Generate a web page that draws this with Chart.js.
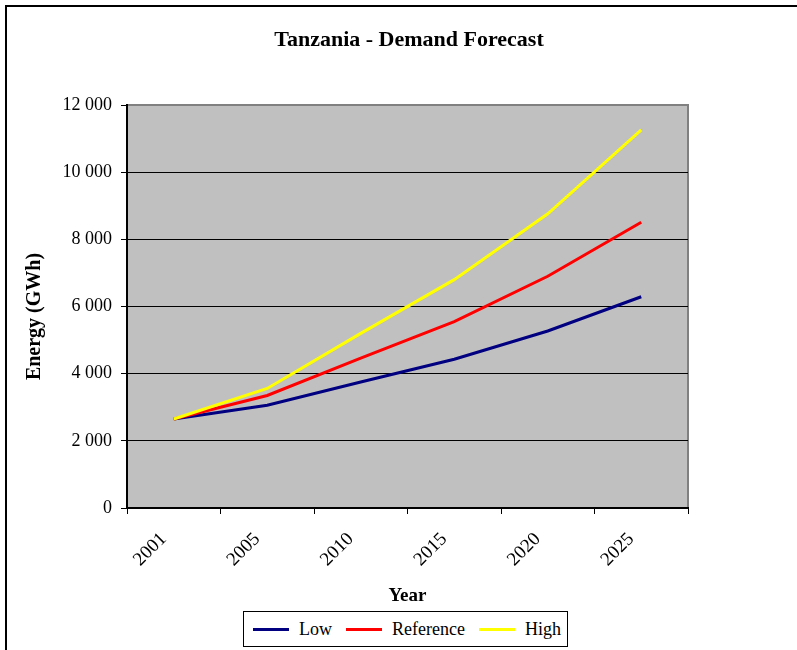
<!DOCTYPE html>
<html>
<head>
<meta charset="utf-8">
<title>Tanzania - Demand Forecast</title>
<script src="https://cdn.jsdelivr.net/npm/chart.js@4.4.0/dist/chart.umd.min.js"></script>
<style>
    html, body { margin: 0; padding: 0; background: #fff; overflow: hidden; }
    .frame {
        position: absolute; left: 5px; top: 5px; width: 820px; height: 700px;
        border-top: 2px solid #000; border-left: 2px solid #000;
    }
    .chart-container { position: absolute; left: 21px; top: 0; width: 776px; height: 650px; }
    .legend-container {
        position: absolute; left: 243px; top: 611px; width: 323px; height: 34px;
        border: 1px solid #000; background: #fff;
    }
    #legend {
        list-style: none; margin: 0; padding: 0 0 0 9px; height: 100%;
        display: flex; align-items: center;
        font: 18px "Liberation Serif", "Times New Roman", serif; color: #000;
    }
    #legend li { display: flex; align-items: center; margin-right: 14px; }
    .legend-color { display: inline-block; width: 36px; height: 3px; margin-right: 10px; }
</style>
</head>
<body>
    <div class="frame"></div>
    <div class="chart-container">
        <canvas id="demandChart" width="776" height="650"></canvas>
    </div>
    <div class="legend-container">
        <ul id="legend"></ul>
    </div>

    <script>
        // values (GWh)
        var years = ['2001', '2005', '2010', '2015', '2020', '2025'];
        var lowValues = [2650, 3060, 3750, 4430, 5270, 6290];
        var referenceValues = [2650, 3350, 4460, 5550, 6900, 8510];
        var highValues = [2650, 3560, 5200, 6800, 8760, 11260];
        var yTicks = [0, 2000, 4000, 6000, 8000, 10000, 12000];

        var seriesNames = ['Low', 'Reference', 'High'];
        var seriesColors = ['#000080', '#FF0000', '#FFFF00'];

        var serif = '"Liberation Serif", "Times New Roman", serif';
        Chart.defaults.color = '#000';
        Chart.defaults.font.family = serif;

        // gray plot background with a gray frame, like the old Excel chart
        var plotBackground = {
            id: 'plotBackground',
            beforeDraw: function(chart) {
                var a = chart.chartArea;
                var c = chart.ctx;
                c.save();
                c.fillStyle = '#C0C0C0';
                c.fillRect(a.left, a.top, a.right - a.left, a.bottom - a.top);
                c.strokeStyle = '#808080';
                c.lineWidth = 2;
                c.strokeRect(a.left, a.top, a.right - a.left, a.bottom - a.top);
                c.restore();
            }
        };

        var allValues = [lowValues, referenceValues, highValues];
        var datasets = [];
        var legendHTML = '';
        for (var i = 0; i < seriesNames.length; i++) {
            datasets.push({
                label: seriesNames[i],
                data: allValues[i],
                borderColor: seriesColors[i],
                backgroundColor: seriesColors[i],
                borderWidth: 3,
                pointRadius: 0,
                fill: false,
                tension: 0,
                order: seriesNames.length - i
            });
            legendHTML += '<li><span class="legend-color" style="background-color:' + seriesColors[i] + '"></span>' + seriesNames[i] + '</li>';
        }
        document.getElementById('legend').innerHTML = legendHTML;

        var ctx = document.getElementById('demandChart').getContext('2d');
        var chart = new Chart(ctx, {
            type: 'line',
            data: {
                labels: years,
                datasets: datasets
            },
            plugins: [plotBackground],
            options: {
                responsive: false,
                animation: false,
                layout: {
                    padding: { left: 0, right: 0, top: 27, bottom: 42 }
                },
                scales: {
                    x: {
                        offset: true,
                        afterFit: function(scale) { scale.height = 100; },
                        grid: {
                            offset: true,
                            drawOnChartArea: false,
                            drawTicks: true,
                            tickLength: 6,
                            tickColor: '#000'
                        },
                        border: { color: '#000', width: 2 },
                        ticks: {
                            minRotation: 45,
                            maxRotation: 45,
                            padding: 4,
                            font: { size: 19, family: serif },
                            callback: function(value, index) {
                                // trailing spaces push the rotated label away from the tick
                                return years[index] + '\u00a0\u00a0\u00a0';
                            }
                        },
                        title: {
                            display: true,
                            text: 'Year',
                            padding: { top: 0, bottom: 1 },
                            font: { size: 19, weight: 'bold', family: serif }
                        }
                    },
                    y: {
                        min: 0,
                        max: 12000,
                        afterFit: function(scale) { scale.width = 106; },
                        afterBuildTicks: function(scale) {
                            scale.ticks = yTicks.map(function(v) { return { value: v }; });
                        },
                        grid: {
                            color: function(c) {
                                return c.tick && c.tick.value === 12000 ? '#808080' : '#000';
                            },
                            lineWidth: 1,
                            drawTicks: true,
                            tickLength: 6,
                            tickColor: '#000'
                        },
                        border: { color: '#000', width: 2 },
                        ticks: {
                            padding: 9,
                            font: { size: 18, family: serif },
                            callback: function(value) {
                                return String(value).replace(/\B(?=(\d{3})+(?!\d))/g, ' ');
                            }
                        },
                        title: {
                            display: true,
                            text: 'Energy (GWh)\u00a0\u00a0\u00a0\u00a0',
                            padding: { top: 2, bottom: 0 },
                            font: { size: 20, weight: 'bold', family: serif }
                        }
                    },
                    // empty right-hand strip so the title centres like the reference
                    spacer: {
                        type: 'linear',
                        position: 'right',
                        afterFit: function(scale) { scale.width = 109; },
                        grid: { display: false, drawTicks: false },
                        border: { display: false },
                        ticks: { display: false },
                        title: { display: false }
                    }
                },
                plugins: {
                    legend: { display: false },
                    tooltip: { enabled: false },
                    title: {
                        display: true,
                        text: 'Tanzania - Demand Forecast',
                        padding: { top: 0, bottom: 51.6 },
                        font: { size: 22, weight: 'bold', family: serif }
                    }
                }
            }
        });
    </script>
</body>
</html>
